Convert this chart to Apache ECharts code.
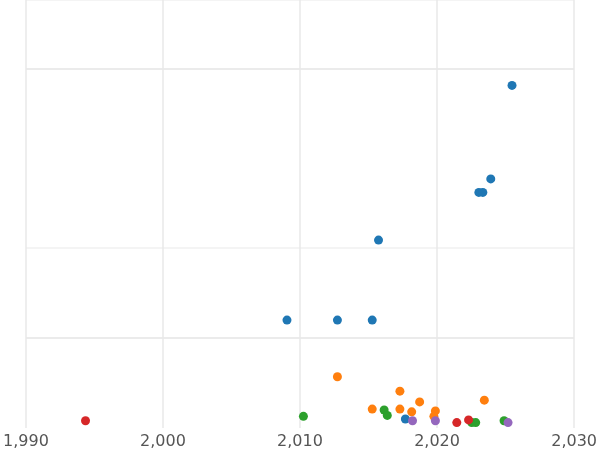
<!DOCTYPE html>
<html>
<head>
<meta charset="utf-8">
<script src="https://cdn.jsdelivr.net/npm/echarts@6/dist/echarts.min.js"></script>
<style>html,body{margin:0;padding:0;background:#fff}#c{width:600px;height:450px}</style>
</head>
<body>
<div id="c"></div>
<script>
// 散点 [year, value]
let blue = [[2009.05, 1.2], [2012.73, 1.2], [2015.27, 1.2], [2015.73, 2.09], [2023.05, 2.62], [2023.34, 2.62], [2023.92, 2.77], [2025.47, 3.81], [2017.69, 0.1]];
let orange = [[2012.73, 0.57], [2017.29, 0.41], [2018.73, 0.29], [2015.27, 0.21], [2017.29, 0.21], [2018.15, 0.18], [2019.88, 0.19], [2019.77, 0.13], [2023.45, 0.31]];
let green = [[2010.25, 0.13], [2016.14, 0.2], [2016.37, 0.14], [2022.53, 0.06], [2022.82, 0.06], [2024.89, 0.08]];
let red = [[1994.35, 0.08], [2021.44, 0.06], [2022.3, 0.09]];
let purple = [[2018.21, 0.08], [2019.88, 0.08], [2025.18, 0.06]];

(function() {
    let myChart = echarts.init(document.getElementById('c'));
    let mk = function(d, color) {
        return { type: 'scatter', data: d, symbolSize: 9, itemStyle: { color: color, opacity: 1 } };
    };
    let option = {
        animation: false,
        grid: { left: -40, right: -54, top: 0, bottom: 22 },
        xAxis: {
            type: 'value',
            min: 1990,
            max: 2030,
            interval: 10,
            axisLine: { show: false },
            axisTick: { show: false },
            axisLabel: { color: '#555', fontSize: 16, margin: 6, fontFamily: 'DejaVu Sans' },
            splitLine: { lineStyle: { color: '#e8e8e8', width: 1.5 } }
        },
        yAxis: {
            type: 'value',
            min: 0,
            max: 4.76,
            interval: 1,
            axisLine: { show: false },
            axisTick: { show: false },
            axisLabel: { show: false },
            splitLine: { show: true, lineStyle: { color: ['#ffffff', '#e4e4e4', '#f0f0f0'], width: 1.5 } }
        },
        series: [
            mk(blue, '#1f77b4'),
            mk(orange, '#ff7f0e'),
            mk(green, '#2ca02c'),
            mk(red, '#d62728'),
            mk(purple, '#9467bd')
        ]
    };
    myChart.setOption(option);
})();
</script>
</body>
</html>
